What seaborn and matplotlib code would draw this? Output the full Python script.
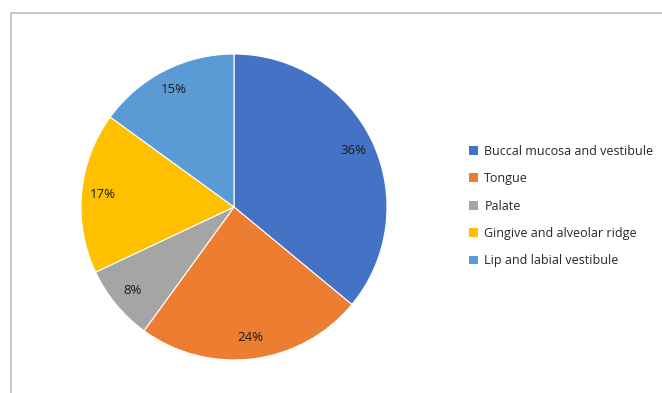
import seaborn as sns
import matplotlib.pyplot as plt
from matplotlib.lines import Line2D
from matplotlib.patches import Patch

sites = ["Buccal mucosa and vestibule", "Tongue", "Palate",
         "Gingive and alveolar ridge", "Lip and labial vestibule"]
shares = [36, 24, 8, 17, 15]
colors = ["#4472C4", "#ED7D31", "#A5A5A5", "#FFC000", "#5B9BD5"]

sns.set_theme(style="white")
plt.rcParams["font.family"] = ["Open Sans", "DejaVu Sans"]

fig = plt.figure(figsize=(6.62, 3.93), dpi=100)
W, H = 662, 393
ax = fig.add_axes([(234 - 153) / W, (186 - 153) / H, 306 / W, 306 / H])
palette = sns.color_palette(colors)
wedges, texts, autotexts = ax.pie(
    shares, colors=palette, startangle=90, counterclock=False,
    autopct="%d%%", pctdistance=0.86,
    wedgeprops=dict(edgecolor="white", linewidth=0.8),
    textprops=dict(fontsize=9.5, color="#1a1a1a"))
ax.set_xlim(-1, 1)
ax.set_ylim(-1, 1)
ax.set_aspect("equal")

handles = [Patch(facecolor=c, edgecolor="none", label=s) for c, s in zip(palette, sites)]
fig.legend(handles=handles, loc="center left", bbox_to_anchor=(458 / W, 1 - 206 / H),
           frameon=False, fontsize=9, handlelength=0.7, handleheight=0.7,
           handletextpad=0.5, labelspacing=1.15, labelcolor="#262626")

y_top = 1 - 13 / H
x_left = 11 / W
fig.add_artist(Line2D([x_left, 1], [y_top, y_top], color="#BFBFBF", lw=1.2))
fig.add_artist(Line2D([x_left, x_left], [0, y_top], color="#BFBFBF", lw=1.2))

fig.savefig("out.png", dpi=100)
